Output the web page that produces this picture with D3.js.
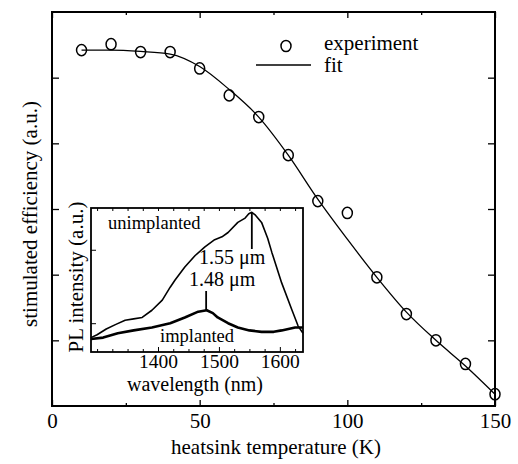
<!DOCTYPE html>
<html>
<head>
<meta charset="utf-8">
<script src="https://cdn.jsdelivr.net/npm/d3@7"></script>
<style>
  body { margin: 0; background: #fff; }
</style>
</head>
<body>
<script>
// main plot data
var expTemp = [10, 20, 30, 40, 50, 60, 70, 80, 90, 100, 110, 120, 130, 140, 150];
var expEff = [5.42, 5.51, 5.39, 5.39, 5.14, 4.73, 4.40, 3.82, 3.12, 2.94, 1.96, 1.40, 1.00, 0.64, 0.18];

var fitTemp = [10, 20, 30, 40, 50, 60, 70, 80, 90, 100, 110, 120, 130, 140, 150];
var fitEff = [5.42, 5.42, 5.40, 5.36, 5.17, 4.82, 4.40, 3.82, 3.15, 2.54, 1.96, 1.43, 1.00, 0.61, 0.18];

var xTicks = [0, 50, 100, 150];
var xMinor = [25, 75, 125];
var yTicks = [1, 2, 3, 4, 5];

// inset data (PL spectra)
var unimpWl = [1290, 1300, 1315, 1330, 1346, 1360, 1374, 1390, 1407, 1420, 1428, 1444, 1461, 1477, 1493, 1505, 1515, 1531, 1543, 1549, 1554, 1560, 1570, 1580, 1587, 1603, 1620, 1630, 1638];
var unimpPL = [0.10, 0.12, 0.16, 0.19, 0.22, 0.23, 0.24, 0.29, 0.36, 0.45, 0.50, 0.59, 0.67, 0.73, 0.78, 0.80, 0.83, 0.90, 0.93, 0.96, 0.97, 0.95, 0.90, 0.79, 0.69, 0.48, 0.29, 0.18, 0.13];
var impWl = [1290, 1310, 1334, 1360, 1390, 1420, 1444, 1466, 1480, 1490, 1498, 1515, 1531, 1550, 1570, 1590, 1603, 1625, 1638];
var impPL = [0.09, 0.10, 0.13, 0.15, 0.17, 0.20, 0.24, 0.28, 0.29, 0.27, 0.24, 0.20, 0.17, 0.15, 0.14, 0.14, 0.15, 0.17, 0.17];
var insetTicks = [1400, 1500, 1600];
var insetMinor = [1300, 1325, 1350, 1375, 1425, 1450, 1475, 1525, 1550, 1575, 1625];
var insetYTicks = [0.2, 0.71];

var svg = d3.select('body')
    .append('svg')
    .attr('width', 518)
    .attr('height', 464);

var x = d3.scaleLinear().domain([0, 150]).range([52, 495]);
var y = d3.scaleLinear().domain([0, 6]).range([406, 12]);

// axes with inward ticks, no domain path (frame drawn separately)
function clean(g) {
    g.select('.domain').remove();
    g.selectAll('text').style('font-size', '21px').attr('fill', '#000');
}

svg.append('g')
    .attr('transform', 'translate(0,406)')
    .call(d3.axisBottom(x).tickValues(xTicks).tickSize(-6).tickPadding(7).tickFormat(d3.format('d')))
    .call(clean);
svg.append('g')
    .attr('transform', 'translate(0,406)')
    .call(d3.axisBottom(x).tickValues(xMinor).tickSize(-3).tickFormat(''))
    .call(clean);
svg.append('g')
    .attr('transform', 'translate(0,12)')
    .call(d3.axisTop(x).tickValues(xTicks).tickSize(-6).tickFormat(''))
    .call(clean);
svg.append('g')
    .attr('transform', 'translate(0,12)')
    .call(d3.axisTop(x).tickValues(xMinor).tickSize(-3).tickFormat(''))
    .call(clean);
svg.append('g')
    .attr('transform', 'translate(52,0)')
    .call(d3.axisLeft(y).tickValues(yTicks).tickSize(-7).tickFormat(''))
    .call(clean);
svg.append('g')
    .attr('transform', 'translate(495,0)')
    .call(d3.axisRight(y).tickValues(yTicks).tickSize(-7).tickFormat(''))
    .call(clean);
svg.selectAll('.tick line').attr('stroke-width', 1.3);

// frame
svg.append('rect')
    .attr('x', 52).attr('y', 12)
    .attr('width', 443).attr('height', 394)
    .attr('fill', 'none')
    .attr('stroke', '#000')
    .attr('stroke-width', 2);

// axis titles
svg.append('text')
    .attr('x', 276).attr('y', 454)
    .attr('text-anchor', 'middle')
    .style('font-size', '21px')
    .text('heatsink temperature (K)');
svg.append('text')
    .attr('transform', 'translate(37,214) rotate(-90)')
    .attr('text-anchor', 'middle')
    .style('font-size', '21px')
    .text('stimulated efficiency (a.u.)');

// fit line
var line = d3.line()
    .x(function (d, i) { return x(fitTemp[i]); })
    .y(function (d) { return y(d); })
    .curve(d3.curveMonotoneX);
svg.append('path')
    .datum(fitEff)
    .attr('d', line)
    .attr('fill', 'none')
    .attr('stroke', '#000')
    .attr('stroke-width', 1.3);

// experiment points
svg.selectAll('ellipse.exp')
    .data(expEff)
    .enter().append('ellipse')
    .attr('class', 'exp')
    .attr('cx', function (d, i) { return x(expTemp[i]); })
    .attr('cy', function (d) { return y(d); })
    .attr('rx', 5)
    .attr('ry', 5.6)
    .attr('fill', 'none')
    .attr('stroke', '#000')
    .attr('stroke-width', 1.5);

// legend
svg.append('ellipse')
    .attr('cx', 286).attr('cy', 46)
    .attr('rx', 5).attr('ry', 5.6)
    .attr('fill', 'none').attr('stroke', '#000').attr('stroke-width', 1.5);
svg.append('text').attr('x', 324).attr('y', 50).style('font-size', '21px').text('experiment');
svg.append('line')
    .attr('x1', 256).attr('x2', 311).attr('y1', 65).attr('y2', 65)
    .attr('stroke', '#000').attr('stroke-width', 1.3);
svg.append('text').attr('x', 324).attr('y', 72).style('font-size', '21px').text('fit');

// INSET
var xi = d3.scaleLinear().domain([1290, 1638]).range([91, 303]);
var yi = d3.scaleLinear().domain([0, 1]).range([352, 208]);

svg.append('rect')
    .attr('x', 91).attr('y', 208)
    .attr('width', 212).attr('height', 144)
    .attr('fill', '#fff');

svg.append('g')
    .attr('transform', 'translate(0,352)')
    .call(d3.axisBottom(xi).tickValues(insetTicks).tickSize(-5).tickPadding(3).tickFormat(d3.format('d')))
    .call(clean);
svg.append('g')
    .attr('transform', 'translate(0,352)')
    .call(d3.axisBottom(xi).tickValues(insetMinor).tickSize(-3).tickFormat(''))
    .call(clean);
svg.append('g')
    .attr('transform', 'translate(0,208)')
    .call(d3.axisTop(xi).tickValues(insetTicks.concat(insetMinor)).tickSize(-3).tickFormat(''))
    .call(clean);
svg.append('g')
    .attr('transform', 'translate(91,0)')
    .call(d3.axisLeft(yi).tickValues(insetYTicks).tickSize(-5).tickFormat(''))
    .call(clean);
// inset tick labels a touch smaller so they clear the title below
svg.selectAll('g').filter(function () { return this.getAttribute('transform') === 'translate(0,352)'; })
    .selectAll('text').style('font-size', '19.5px').attr('y', 2);

var lineUn = d3.line()
    .x(function (d, i) { return xi(unimpWl[i]); })
    .y(function (d) { return yi(d); });
var lineIm = d3.line()
    .x(function (d, i) { return xi(impWl[i]); })
    .y(function (d) { return yi(d); });

svg.append('path')
    .datum(unimpPL)
    .attr('d', lineUn)
    .attr('fill', 'none')
    .attr('stroke', '#000')
    .attr('stroke-width', 1.6)
    .attr('stroke-linejoin', 'round');
svg.append('path')
    .datum(impPL)
    .attr('d', lineIm)
    .attr('fill', 'none')
    .attr('stroke', '#000')
    .attr('stroke-width', 2.6)
    .attr('stroke-linejoin', 'round');

svg.append('rect')
    .attr('x', 91).attr('y', 208)
    .attr('width', 212).attr('height', 144)
    .attr('fill', 'none')
    .attr('stroke', '#000')
    .attr('stroke-width', 1.8);

// peak markers
svg.append('line')
    .attr('x1', xi(1554)).attr('x2', xi(1554))
    .attr('y1', yi(0.97)).attr('y2', 249)
    .attr('stroke', '#000').attr('stroke-width', 1.8);
svg.append('line')
    .attr('x1', xi(1479)).attr('x2', xi(1479))
    .attr('y1', 291).attr('y2', yi(0.29))
    .attr('stroke', '#000').attr('stroke-width', 1.8);

svg.append('text').attr('x', 108).attr('y', 229).style('font-size', '18.5px').text('unimplanted');
svg.append('text').attr('x', 160).attr('y', 342).style('font-size', '18.5px').text('implanted');
svg.append('text').attr('x', 199).attr('y', 264).style('font-size', '20px').text('1.55 \u03bcm');
svg.append('text').attr('x', 189).attr('y', 286).style('font-size', '20px').text('1.48 \u03bcm');

svg.append('text')
    .attr('x', 195).attr('y', 391)
    .attr('text-anchor', 'middle')
    .style('font-size', '20px')
    .text('wavelength (nm)');
svg.append('text')
    .attr('transform', 'translate(83,277) rotate(-90)')
    .attr('text-anchor', 'middle')
    .style('font-size', '21px')
    .text('PL intensity (a.u.)');

// serif font on every text, applied last so it beats the axis defaults
svg.selectAll('g').attr('font-family', null);
svg.selectAll('text').style('font-family', "'Liberation Serif'");
</script>
</body>
</html>
